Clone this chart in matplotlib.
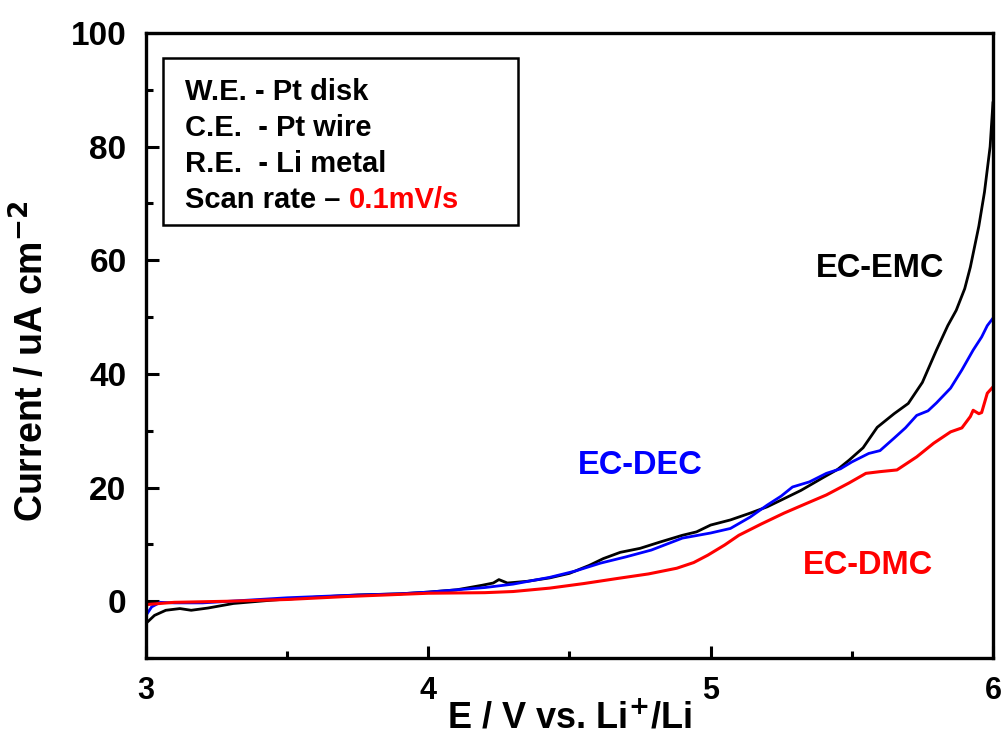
import numpy as np
import matplotlib.pyplot as plt
from matplotlib.patches import Rectangle
from matplotlib.ticker import MultipleLocator

plt.rcParams['font.family'] = ['Liberation Sans', 'DejaVu Sans']
plt.rcParams['font.weight'] = 'bold'

# EC-EMC (black)
emc_x = [3.0, 3.03, 3.07, 3.12, 3.16, 3.22, 3.31, 3.45, 3.6, 3.75, 3.9, 4.0, 4.1, 4.19,
         4.23, 4.25, 4.28, 4.35, 4.43, 4.5, 4.57, 4.62, 4.68, 4.75, 4.82, 4.9, 4.95, 5.0,
         5.07, 5.14, 5.2, 5.25, 5.32, 5.4, 5.45, 5.49, 5.54, 5.59, 5.65, 5.7, 5.75, 5.8,
         5.84, 5.87, 5.9, 5.92, 5.95, 5.97, 5.99, 6.0]
emc_y = [-3.9, -2.5, -1.6, -1.3, -1.6, -1.2, -0.4, 0.2, 0.7, 1.1, 1.3, 1.6, 2.0, 2.8,
         3.2, 3.8, 3.2, 3.5, 4.1, 4.9, 6.3, 7.5, 8.6, 9.3, 10.4, 11.6, 12.2, 13.4,
         14.3, 15.5, 16.6, 17.8, 19.5, 21.8, 23.2, 24.8, 27.0, 30.6, 33.0, 34.8, 38.5, 44.2,
         48.5, 51.2, 55.0, 58.8, 66.0, 72.0, 80.0, 87.7]

# EC-DEC (blue)
dec_x = [3.0, 3.02, 3.05, 3.1, 3.2, 3.3, 3.5, 3.7, 3.9, 4.0, 4.2, 4.3, 4.43, 4.52, 4.61,
         4.7, 4.79, 4.9, 5.0, 5.07, 5.14, 5.2, 5.25, 5.29, 5.35, 5.41, 5.46, 5.5, 5.56,
         5.6, 5.65, 5.69, 5.73, 5.77, 5.8, 5.85, 5.89, 5.93, 5.96, 5.98, 6.0]
dec_y = [-2.5, -1.0, -0.2, -0.3, -0.3, 0.0, 0.6, 1.0, 1.3, 1.6, 2.4, 3.0, 4.2, 5.3, 6.7,
         7.8, 9.0, 11.1, 12.0, 12.8, 14.8, 16.9, 18.5, 20.1, 21.0, 22.5, 23.3, 24.5, 26.0,
         26.5, 28.7, 30.5, 32.7, 33.5, 34.9, 37.5, 40.7, 44.2, 46.5, 48.5, 49.8]

# EC-DMC (red)
dmc_x = [3.0, 3.1, 3.3, 3.5, 3.7, 3.9, 4.0, 4.2, 4.3, 4.43, 4.55, 4.67, 4.78, 4.88, 4.94,
         4.99, 5.05, 5.1, 5.18, 5.26, 5.33, 5.41, 5.49, 5.55, 5.6, 5.66, 5.73, 5.79, 5.85,
         5.89, 5.92, 5.93, 5.95, 5.96, 5.98, 6.0]
dmc_y = [-0.6, -0.2, 0.0, 0.3, 0.8, 1.2, 1.4, 1.5, 1.7, 2.3, 3.1, 4.0, 4.8, 5.8, 6.8,
         8.1, 9.9, 11.6, 13.6, 15.5, 17.0, 18.7, 20.8, 22.5, 22.8, 23.1, 25.4, 27.8, 29.8,
         30.5, 32.5, 33.6, 33.0, 33.2, 36.6, 37.7]

fig = plt.figure(figsize=(10.05, 7.4), dpi=100)
ax = fig.add_axes([0.1453, 0.1108, 0.8427, 0.8446])

ax.plot(emc_x, emc_y, color='black', lw=2)
ax.plot(dec_x, dec_y, color='#0000ff', lw=2)
ax.plot(dmc_x, dmc_y, color='#ff0000', lw=2.2)

ax.set_xlim(3, 6)
ax.set_ylim(-10, 100)
ax.xaxis.set_major_locator(MultipleLocator(1))
ax.xaxis.set_minor_locator(MultipleLocator(0.5))
ax.yaxis.set_major_locator(MultipleLocator(20))
ax.yaxis.set_minor_locator(MultipleLocator(10))
ax.tick_params(which='both', direction='in', width=2.2, top=False, right=False)
ax.tick_params(which='major', length=9)
ax.tick_params(which='minor', length=5)
ax.tick_params(axis='x', labelsize=22, pad=13)
ax.tick_params(axis='y', labelsize=24, pad=14)
for s in ax.spines.values():
    s.set_linewidth(2.4)

ax.set_xlabel('E / V vs. Li$^{\\mathbf{+}}$/Li', fontsize=26, fontweight='bold', labelpad=-4)
ax.set_ylabel('Current / uA cm$^{\\mathbf{-2}}$', fontsize=27, fontweight='bold')
ax.yaxis.set_label_coords(-0.112, 0.475)

# curve labels
ax.text(5.6, 58.6, 'EC-EMC', color='black', fontsize=23.5, ha='center', va='center')
ax.text(4.75, 23.8, 'EC-DEC', color='#0000ff', fontsize=23.5, ha='center', va='center')
ax.text(5.557, 6.2, 'EC-DMC', color='#ff0000', fontsize=23.5, ha='center', va='center')

# conditions box
ax.add_patch(Rectangle((0.020, 0.693), 0.419, 0.267, transform=ax.transAxes,
                       fill=False, lw=1.8, ec='black'))
lines = ['W.E. - Pt disk', 'C.E.  - Pt wire', 'R.E.  - Li metal', 'Scan rate \u2013 ']
ys = [0.893, 0.835, 0.778, 0.72]
last = None
for t, y in zip(lines, ys):
    last = ax.text(0.046, y, t, transform=ax.transAxes, fontsize=21, va='baseline')
ax.annotate('0.1mV/s', xy=(1, 0), xycoords=last, va='bottom', ha='left',
            color='#ff0000', fontsize=21)

fig.savefig('out.png', dpi=100)
